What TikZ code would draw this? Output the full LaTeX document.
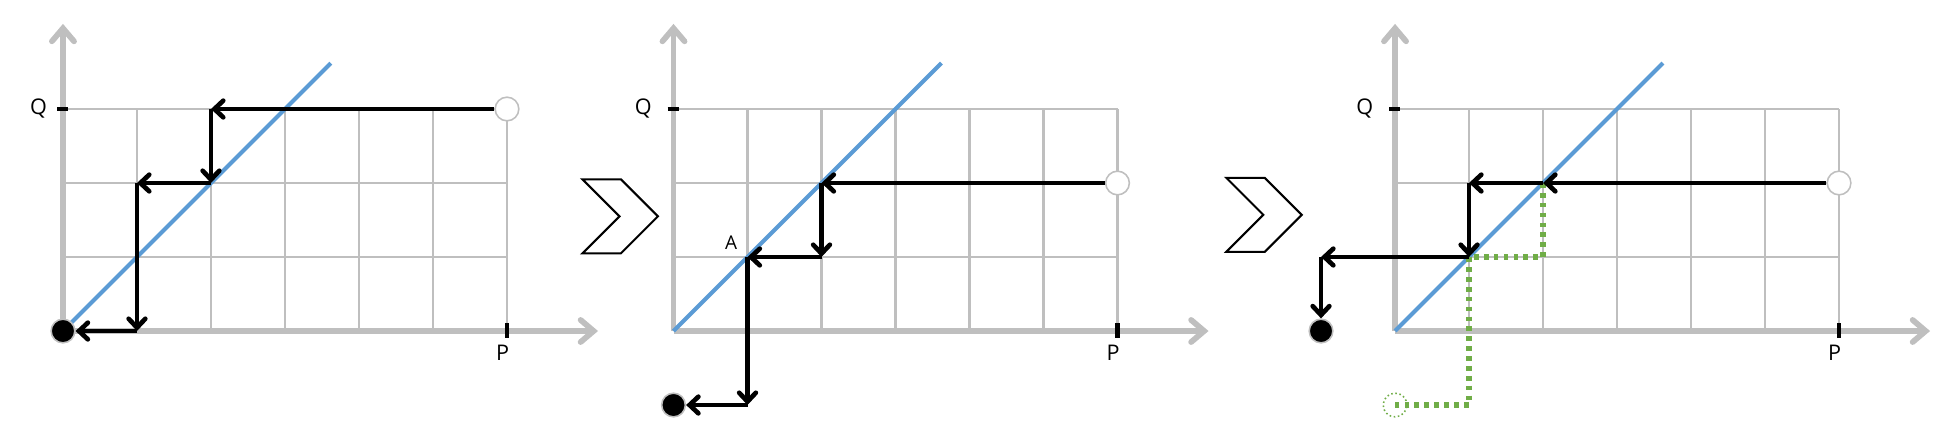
\documentclass[tikz,border=0pt]{standalone}
\usepackage{fontspec}
\setmainfont{Open Sans}
\usetikzlibrary{arrows.meta}
\definecolor{axgray}{RGB}{191,191,191}
\definecolor{lineblue}{RGB}{91,155,213}
\definecolor{pathgreen}{RGB}{112,173,71}
\tikzset{
  axis/.style = {axgray, line width=2.2pt, -{Straight Barb[length=5pt, width=8.5pt, line cap=round]}},
  gridline/.style = {axgray, line width=.8pt},
  tick/.style = {black, line width=1.7pt},
  diag/.style = {lineblue, line width=1.6pt},
  arr/.style = {black, line width=1.8pt, -{Straight Barb[length=3.4pt, width=6.4pt, line cap=round]}},
  gpath/.style = {pathgreen, line width=2pt, dash pattern=on 1.8pt off 2pt},
  startdot/.style = {circle, draw=axgray, line width=.6pt, fill=white, minimum size=.32cm, inner sep=0pt},
  enddot/.style = {circle, draw=axgray, line width=.6pt, fill=black, minimum size=.32cm, inner sep=0pt},
  ghostdot/.style = {circle, draw=pathgreen, line width=.6pt, densely dotted, minimum size=.32cm, inner sep=0pt},
  chevbox/.style = {black, line width=.8pt},
  lbl/.style = {font=\fontsize{8.3}{10}\selectfont, inner sep=0pt}
}
\begin{document}
\begin{tikzpicture}
  \useasboundingbox (-.851,-1.284) rectangle (25.54,4.473);
  \def\panelbase(#1){
    \foreach \i in {1,...,6} \draw[gridline] (\i,0) -- (\i,3);
    \foreach \j in {1,2,3} \draw[gridline] (0,\j) -- (6,\j);
    \draw[axis] (0,0) -- (7.23,0);
    \draw[axis] (0,0) -- (0,4.15);
    \draw[tick] (-.08,3) -- (.07,3);
    \draw[tick] (6,-.09) -- (6,.11);
    \node[lbl] (q) at (#1,3) {Q};
    \node[lbl] (p) at (5.94,-.3) {P};
    \draw[diag] (0,0) -- (3.62,3.62);
  }
  % first panel
  \begin{scope}[name prefix=a-]
    \panelbase(-.33)
    \node[startdot] (s) at (6,3) {};
    \node[enddot] (e) at (0,0) {};
    \coordinate (c1) at (2,3); \coordinate (c2) at (2,2);
    \coordinate (c3) at (1,2); \coordinate (c4) at (1,0);
    \draw[arr] (s) -- (c1);
    \draw[arr] (c1) -- (c2);
    \draw[arr] (c2) -- (c3);
    \draw[arr] (c3) -- (c4);
    \draw[arr] (c4) -- (e);
  \end{scope}
  % chevrons between panels
  \foreach \cx/\cy in {7.02/1.05, 15.72/1.07}
    \draw[chevbox] (\cx,\cy) -- ++(.52,0) -- ++(.5,.5) -- ++(-.5,.5) -- ++(-.52,0) -- ++(.5,-.5) -- cycle;
  % second panel
  \begin{scope}[xshift=8.25cm, name prefix=b-]
    \panelbase(-.41)
    \node[startdot] (s) at (6,2) {};
    \node[enddot] (e) at (0,-1) {};
    \coordinate (c1) at (2,2); \coordinate (c2) at (2,1);
    \coordinate (c3) at (1,1); \coordinate (c4) at (1,-1);
    \node[lbl, font=\fontsize{7.3}{9}\selectfont] (lA) at (.78,1.2) {A};
    \draw[arr] (s) -- (c1);
    \draw[arr] (c1) -- (c2);
    \draw[arr] (c2) -- (c3);
    \draw[arr] (c3) -- (c4);
    \draw[arr] (c4) -- (e);
  \end{scope}
  % third panel
  \begin{scope}[xshift=18cm, name prefix=c-]
    \panelbase(-.41)
    \coordinate (g1) at (2,2); \coordinate (g2) at (2,1);
    \coordinate (g3) at (1,1); \coordinate (g4) at (1,-1);
    \node[ghostdot] (g) at (0,-1) {};
    \draw[gpath] (g1) -- (g2) -- (g3) -- (g4) -- (g.center);
    \node[startdot] (s) at (6,2) {};
    \node[enddot] (e) at (-1,0) {};
    \coordinate (c1) at (2,2); \coordinate (c2) at (1,2);
    \coordinate (c3) at (1,1); \coordinate (c4) at (-1,1);
    \draw[arr] (s) -- (c1);
    \draw[arr] (c1) -- (c2);
    \draw[arr] (c2) -- (c3);
    \draw[arr] (c3) -- (c4);
    \draw[arr] (c4) -- (e);
  \end{scope}
\end{tikzpicture}
\end{document}
